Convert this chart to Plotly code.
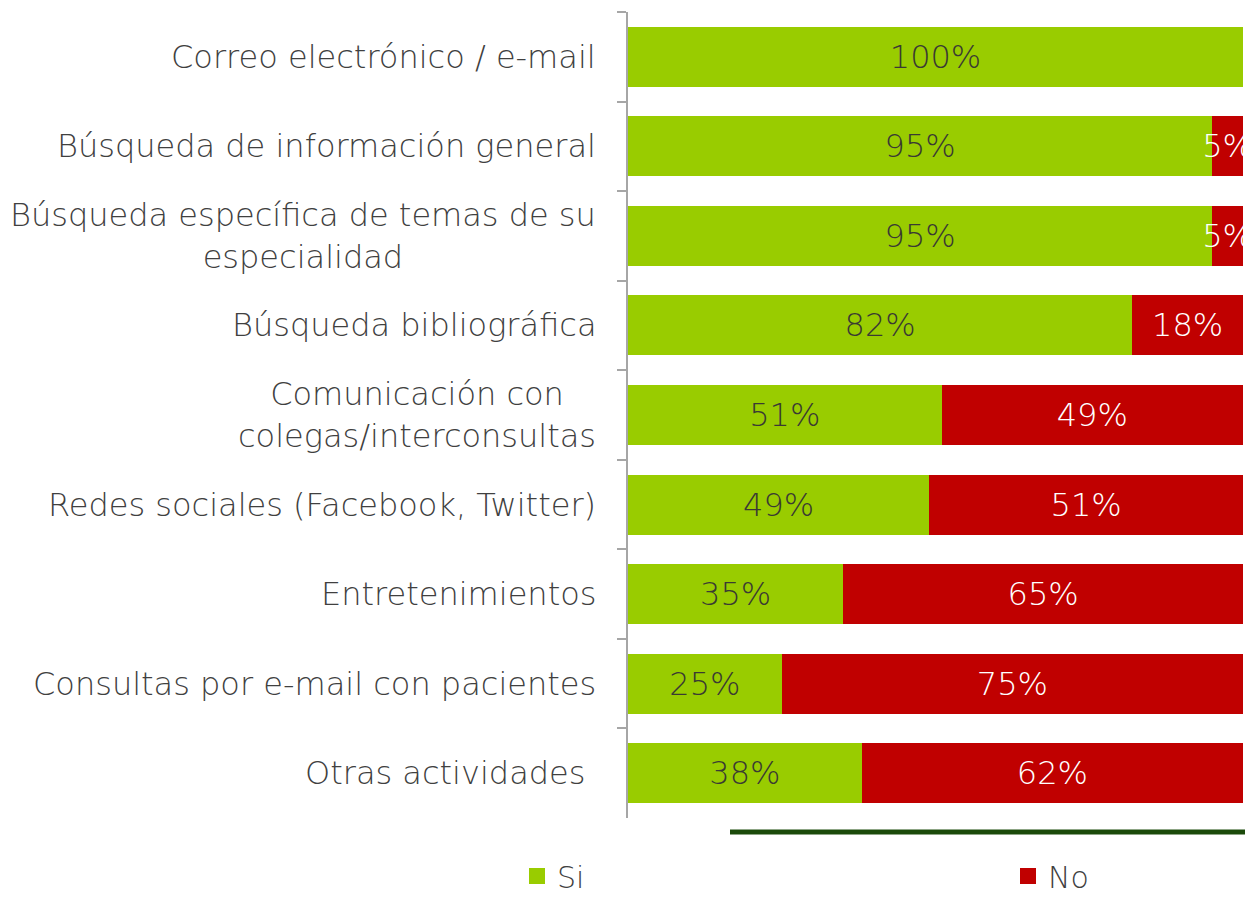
import plotly.graph_objects as go

# Internet uses reported by the surveyed physicians (percent)
categorias = [
    "Correo electrónico / e-mail",
    "Búsqueda de información general",
    "Búsqueda específica de temas de su<br>especialidad",
    "Búsqueda bibliográfica",
    "Comunicación con<br>colegas/interconsultas",
    "Redes sociales (Facebook, Twitter)",
    "Entretenimientos",
    "Consultas por e-mail con pacientes",
    "Otras actividades ",
]
si = [100, 95, 95, 82, 51, 49, 35, 25, 38]
no = [0, 5, 5, 18, 49, 51, 65, 75, 62]
series = ["Si", "No"]

VERDE = "#99CC00"
ROJO = "#C00000"
FUENTE = "DejaVu Sans"
GRIS = "#404040"

W, H = 1245, 897
ML, MR, MT, MB = 628, 2, 12, 79
plot_w = W - ML - MR
plot_h = H - MT - MB

fig = go.Figure()
fig.add_trace(go.Bar(
    name=series[0], y=categorias, x=si, orientation="h",
    marker=dict(color=VERDE, line=dict(width=0)),
    text=[f"{v}%" if v else "" for v in si],
    textposition="inside", insidetextanchor="middle", textangle=0,
    textfont=dict(family=FUENTE, size=32, color="#3A3A33", weight=300),
    constraintext="none", cliponaxis=False, showlegend=False,
))
fig.add_trace(go.Bar(
    name=series[1], y=categorias, x=no, orientation="h",
    marker=dict(color=ROJO, line=dict(width=0)),
    text=[f"{v}%" if v else "" for v in no],
    textposition="inside", insidetextanchor="middle", textangle=0,
    textfont=dict(family=FUENTE, size=32, color="white", weight=300),
    constraintext="none", cliponaxis=False, showlegend=False,
))

# Legend entries with larger square swatches
for nombre, color, leg in [(series[0], VERDE, "legend"), (series[1], ROJO, "legend2")]:
    fig.add_trace(go.Scatter(
        name=nombre, x=[None], y=[None], mode="markers",
        marker=dict(symbol="square", size=20, color=color),
        legend=leg, showlegend=True,
    ))

# Category labels, centred line by line, to the left of the axis
for cat in categorias:
    fig.add_annotation(
        xref="paper", yref="y", x=-30 / plot_w, y=cat,
        text=cat, showarrow=False, xanchor="right", yanchor="middle",
        align="center",
        font=dict(family=FUENTE, size=32, color=GRIS, weight=300),
    )

# Dark green rule under the chart
y_rule = -14 / plot_h
fig.add_shape(
    type="line", xref="paper", yref="paper",
    x0=(730 - ML) / plot_w, x1=1.01, y0=y_rule, y1=y_rule,
    line=dict(color="#1B4A0A", width=5),
)

legend_style = dict(
    orientation="h", xref="paper", yref="paper", xanchor="left",
    y=-(MB + 5) / plot_h, yanchor="bottom",
    font=dict(family=FUENTE, size=30, color=GRIS, weight=300),
    bgcolor="rgba(0,0,0,0)", itemwidth=30, itemsizing="trace",
    tracegroupgap=0, borderwidth=0,
)

fig.update_layout(
    width=W, height=H,
    margin=dict(l=ML, r=MR, t=MT, b=MB, autoexpand=False),
    barmode="stack", bargap=0.33,
    plot_bgcolor="white", paper_bgcolor="white",
    font=dict(family=FUENTE, color=GRIS),
    xaxis=dict(range=[0, 100], visible=False, fixedrange=True),
    yaxis=dict(
        autorange="reversed", showticklabels=False,
        showline=True, linecolor="#A6A6A6", linewidth=1.5,
        ticks="outside", tickson="boundaries", ticklen=9, tickcolor="#A6A6A6",
        tickwidth=1.5, showgrid=False, zeroline=False,
    ),
    legend=dict(x=(517 - ML) / plot_w, **legend_style),
    legend2=dict(x=(1008 - ML) / plot_w, **legend_style),
    showlegend=True,
)

fig.write_html("out.html")
